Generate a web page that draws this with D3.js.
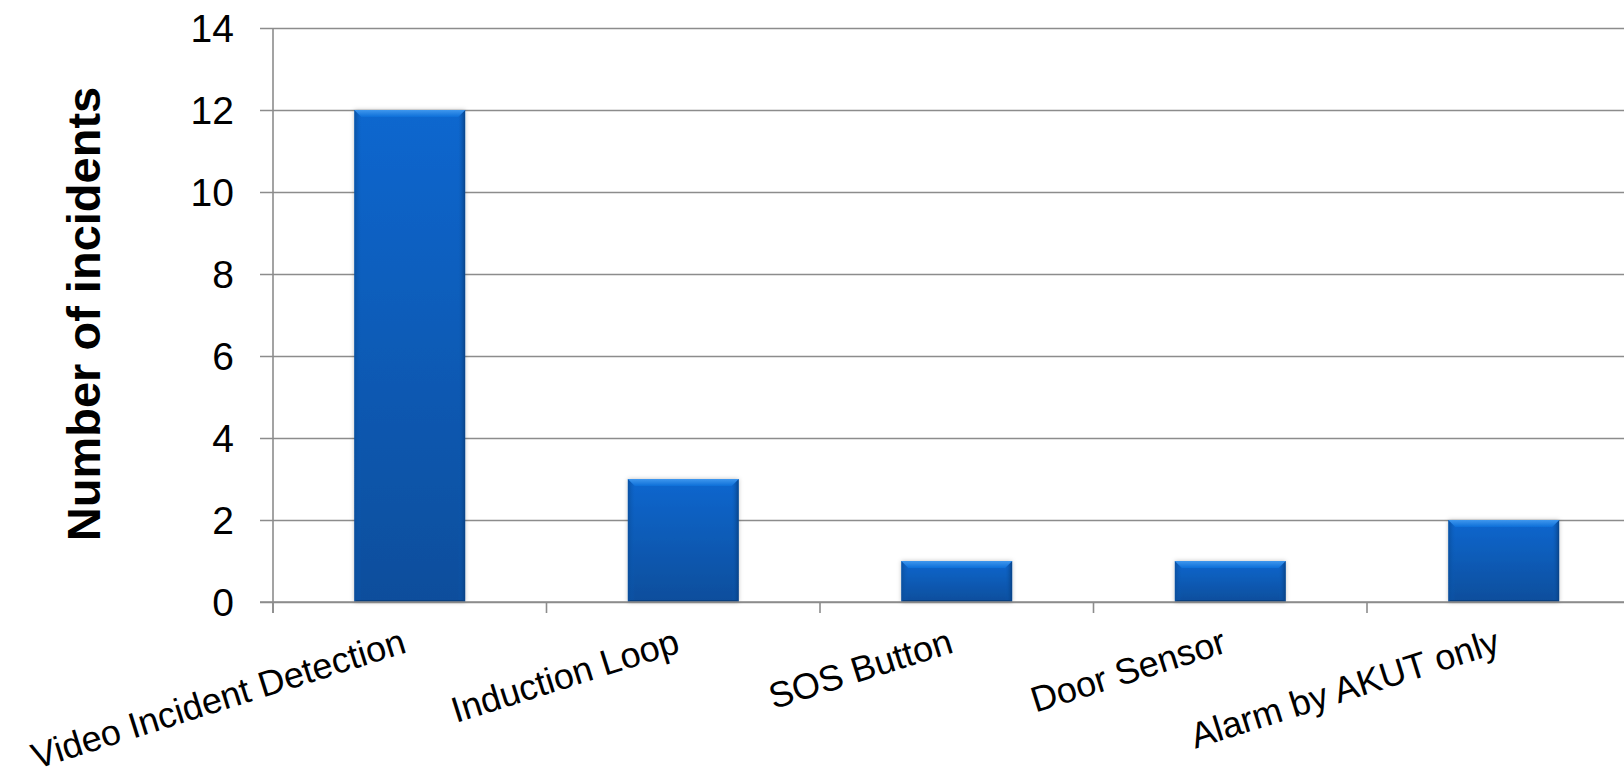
<!DOCTYPE html>
<html>
<head>
<meta charset="utf-8">
<script src="https://cdn.jsdelivr.net/npm/d3@7/dist/d3.min.js"></script>
<style>
  html, body { margin: 0; padding: 0; background: #ffffff; }
  svg { display: block; font-family: "Liberation Sans", Arial, sans-serif; }
</style>
</head>
<body>
<svg id="chart" width="1624" height="779"></svg>
<script>
// Incidents by detection source
const categories = ["Video Incident Detection", "Induction Loop", "SOS Button", "Door Sensor", "Alarm by AKUT only"];
const incidents = [12, 3, 1, 1, 2];
const yTicks = [0, 2, 4, 6, 8, 10, 12, 14];
const yTitle = "Number of incidents";

const W = 1624, H = 779;
const plot = { left: 273, top: 28, bottom: 602, step: 273.5 };

const svg = d3.select("#chart");

const x = d3.scaleBand()
  .domain(categories)
  .range([plot.left, plot.left + plot.step * categories.length])
  .padding(0);

const y = d3.scaleLinear().domain([0, 14]).range([plot.bottom, plot.top]);

const gridColor = "#8c8c8c";

// gradients and shadow for the bevelled bars
const defs = svg.append("defs");
const body = defs.append("linearGradient").attr("id", "barBody")
  .attr("x1", 0).attr("y1", 0).attr("x2", 0).attr("y2", 1);
body.append("stop").attr("offset", "0%").attr("stop-color", "#0767cf");
body.append("stop").attr("offset", "100%").attr("stop-color", "#0b4e9c");

const topBevel = defs.append("linearGradient").attr("id", "barTop")
  .attr("x1", 0).attr("y1", 0).attr("x2", 0).attr("y2", 1);
topBevel.append("stop").attr("offset", "0%").attr("stop-color", "#3f97ee");
topBevel.append("stop").attr("offset", "100%").attr("stop-color", "#0d6fd8");

const sideL = defs.append("linearGradient").attr("id", "barLeft")
  .attr("x1", 0).attr("y1", 0).attr("x2", 1).attr("y2", 0);
sideL.append("stop").attr("offset", "0%").attr("stop-color", "#0a4c98");
sideL.append("stop").attr("offset", "100%").attr("stop-color", "#0a5cb8").attr("stop-opacity", 0);

const sideR = defs.append("linearGradient").attr("id", "barRight")
  .attr("x1", 0).attr("y1", 0).attr("x2", 1).attr("y2", 0);
sideR.append("stop").attr("offset", "0%").attr("stop-color", "#0a5cb8").attr("stop-opacity", 0);
sideR.append("stop").attr("offset", "100%").attr("stop-color", "#083f80");

const shadow = defs.append("filter").attr("id", "barShadow")
  .attr("x", "-10%").attr("y", "-10%").attr("width", "120%").attr("height", "120%");
shadow.append("feDropShadow").attr("dx", 0).attr("dy", 0).attr("stdDeviation", 2)
  .attr("flood-color", "#000").attr("flood-opacity", 0.25);

// horizontal gridlines (also serve as y-axis ticks, extending left)
const yAxis = d3.axisLeft(y).tickValues(yTicks).tickSize(-(W - plot.left + 20)).tickPadding(0).tickFormat("");
const gy = svg.append("g").attr("transform", `translate(${plot.left},0)`).call(yAxis);
gy.select(".domain").remove();
gy.selectAll(".tick line").attr("stroke", gridColor).attr("stroke-width", 1.6).attr("x1", -13);

// y tick labels
svg.append("g").selectAll("text").data(yTicks).join("text")
  .attr("x", 234)
  .attr("y", d => y(d))
  .attr("dy", "0.355em")
  .attr("text-anchor", "end")
  .attr("font-size", 39)
  .attr("fill", "#000")
  .text(d => d);

// y axis line
svg.append("line")
  .attr("x1", plot.left).attr("x2", plot.left)
  .attr("y1", y(14)).attr("y2", plot.bottom + 11)
  .attr("stroke", gridColor).attr("stroke-width", 1.6);

// category boundary ticks below the baseline
const bounds = d3.range(categories.length + 1).map(i => plot.left + i * x.step());
svg.append("g").selectAll("line").data(bounds).join("line")
  .attr("x1", d => d).attr("x2", d => d)
  .attr("y1", plot.bottom).attr("y2", plot.bottom + 11)
  .attr("stroke", gridColor).attr("stroke-width", 1.6);

// bars
const barW = x.bandwidth() * 0.405;
const bars = svg.append("g").selectAll("g.bar")
  .data(categories.map((c, i) => ({ c, v: incidents[i] })))
  .join("g").attr("class", "bar");

bars.each(function (d) {
  const g = d3.select(this);
  const x0 = x(d.c) + (x.bandwidth() - barW) / 2;
  const x1 = x0 + barW;
  const yt = y(d.v);
  const yb = y(0);
  const b = 7; // bevel width
  g.append("rect")
    .attr("x", x0).attr("y", yt).attr("width", barW).attr("height", yb - yt)
    .attr("fill", "url(#barBody)").attr("filter", "url(#barShadow)");
  // left edge
  g.append("polygon")
    .attr("points", [[x0, yt], [x0 + b, yt + b], [x0 + b, yb - 2], [x0, yb]].join(" "))
    .attr("fill", "url(#barLeft)").attr("opacity", 0.8);
  // right edge
  g.append("polygon")
    .attr("points", [[x1, yt], [x1 - b, yt + b], [x1 - b, yb - 2], [x1, yb]].join(" "))
    .attr("fill", "url(#barRight)").attr("opacity", 0.9);
  // top bevel highlight
  g.append("polygon")
    .attr("points", [[x0, yt], [x1, yt], [x1 - b, yt + b], [x0 + b, yt + b]].join(" "))
    .attr("fill", "url(#barTop)");
  // bottom edge
  g.append("polygon")
    .attr("points", [[x0, yb], [x1, yb], [x1 - 2, yb - 2], [x0 + 2, yb - 2]].join(" "))
    .attr("fill", "#083f80");
});

// x axis baseline
svg.append("line")
  .attr("x1", plot.left - 13).attr("x2", W)
  .attr("y1", plot.bottom).attr("y2", plot.bottom)
  .attr("stroke", gridColor).attr("stroke-width", 1.6);

// rotated category labels
svg.append("g").selectAll("text").data(categories).join("text")
  .attr("transform", d => `translate(${x(d) + x.bandwidth() / 2 - 2},652) rotate(-17.5)`)
  .attr("text-anchor", "end")
  .attr("font-size", 36)
  .attr("fill", "#000")
  .text(d => d);

// y axis title
svg.append("text")
  .attr("transform", `translate(100,314) rotate(-90)`)
  .attr("text-anchor", "middle")
  .attr("font-size", 47)
  .attr("font-weight", "bold")
  .attr("fill", "#000")
  .text(yTitle);
</script>
</body>
</html>
